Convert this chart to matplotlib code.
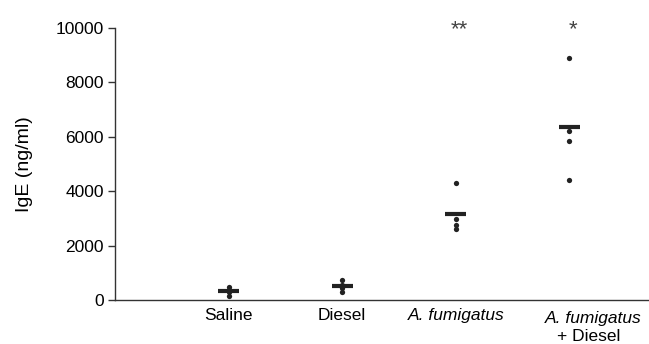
import matplotlib
matplotlib.use("Agg")
import matplotlib.pyplot as plt
import numpy as np

# valores (IgE em ng/ml)
grupos = ["Saline", "Diesel", "A. fumigatus", "A. fumigatus\n+ Diesel"]
saline = [460, 380, 280, 130]
diesel = [720, 560, 430, 290]
fumigatus = [4300, 2980, 2760, 2590]
fumigatus_diesel = [8900, 6220, 5830, 4410]
medias = [330, 515, 3160, 6370]
estrelas = ["", "", "**", "*"]

dados = [saline, diesel, fumigatus, fumigatus_diesel]

plt.rcParams["font.family"] = ["Liberation Sans", "DejaVu Sans"]
plt.rcParams["font.size"] = 12.5

fig = plt.figure(figsize=(6.49, 3.44), dpi=100)
ax = fig.add_axes([0.177, 0.128, 0.823, 0.791])

cor = "#222222"
largura = 0.093
for i, vals in enumerate(dados):
    x = i + 1
    ax.plot([x] * len(vals), vals, "o", color=cor, markersize=3.8, markeredgewidth=0)
    ax.hlines(medias[i], x - largura, x + largura, color=cor, linewidth=3.0)
    if estrelas[i]:
        ax.text(x + 0.03, 9720, estrelas[i], ha="center", va="baseline",
                fontsize=16, color="#444444", clip_on=False)

ax.set_xlim(0, 4.70)
ax.set_ylim(0, 10000)
ax.set_yticks([0, 2000, 4000, 6000, 8000, 10000])
ax.set_ylabel("IgE (ng/ml)", labelpad=16, fontsize=14)

ax.set_xticks([1, 2, 3, 4])
ax.tick_params(axis="x", length=0, pad=6)
ax.tick_params(axis="y", length=5, width=1, color="#333333", pad=3)

# último rótulo feito à mão: primeira linha em itálico, deslocado para a direita
ax.set_xticklabels(grupos[:3] + [""])
ax.get_xticklabels()[2].set_style("italic")
ax.text(4.21, -420, "A. fumigatus", style="italic", ha="center", va="top",
        clip_on=False)
ax.text(4.17, -1070, "+ Diesel", ha="center", va="top", clip_on=False)

for lado in ["top", "right"]:
    ax.spines[lado].set_visible(False)
for lado in ["left", "bottom"]:
    ax.spines[lado].set_color("#333333")
    ax.spines[lado].set_linewidth(1.0)

plt.savefig("out.png", dpi=100)
